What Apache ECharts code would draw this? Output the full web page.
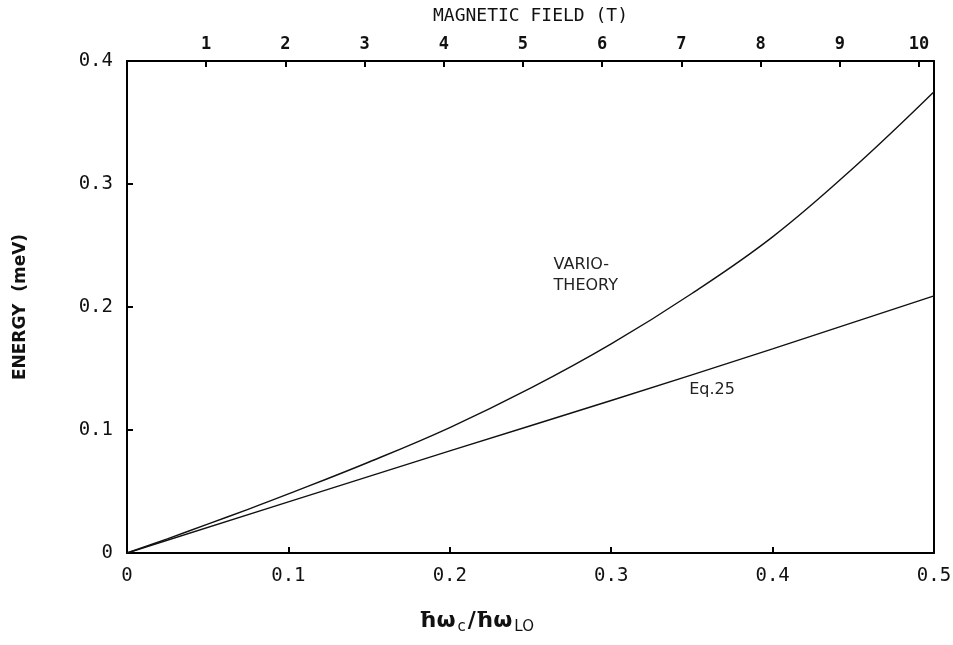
<!DOCTYPE html>
<html>
<head>
<meta charset="utf-8">
<script src="https://cdn.jsdelivr.net/npm/echarts@6/dist/echarts.min.js"></script>
<style>html,body{margin:0;padding:0;background:#fff;}#c{width:953px;height:645px;}</style>
</head>
<body>
<div id="c"></div>
<script>
// Data
var varioX = [0, 0.025, 0.05, 0.075, 0.1, 0.15, 0.2, 0.25, 0.3, 0.35, 0.4, 0.45, 0.5];
var varioY = [0, 0.0115, 0.0235, 0.0355, 0.048, 0.074, 0.102, 0.134, 0.170, 0.211, 0.257, 0.313, 0.375];
var eqX = [0, 0.1, 0.2, 0.3, 0.4, 0.5];
var eqY = [0, 0.0415, 0.083, 0.124, 0.166, 0.209];
var bottomTicks = [0, 0.1, 0.2, 0.3, 0.4, 0.5];
var leftTicks = [0, 0.1, 0.2, 0.3, 0.4];
var fieldTicks = [1, 2, 3, 4, 5, 6, 7, 8, 9, 10];
var fieldMax = 10.19; // tesla at ħω_c/ħω_LO = 0.5

function pairs(xs, ys) { return xs.map(function (x, i) { return [x, ys[i]]; }); }

var tickFont = 'DejaVu Sans Mono';
var noteLabel = { fontFamily: 'DejaVu Sans', fontSize: 16, color: '#222', lineHeight: 21 };
var chart = echarts.init(document.getElementById('c'));
chart.setOption({
  animation: false,
  backgroundColor: '#fff',
  grid: { left: 127, right: 19, top: 61, bottom: 92, show: false, containLabel: false, outerBoundsMode: 'none' },
  xAxis: [{
    type: 'value', min: 0, max: 0.5, interval: 0.1, position: 'bottom',
    axisLine: { show: true, onZero: false, lineStyle: { color: '#000', width: 2 } },
    axisTick: { show: true, inside: true, length: 6, lineStyle: { color: '#000', width: 2 } },
    axisLabel: { margin: 14, color: '#111', fontFamily: tickFont, fontSize: 19,
      formatter: function (v) { return v === 0 ? '0' : v.toFixed(1); } },
    splitLine: { show: false }
  }, {
    type: 'value', min: 0, max: fieldMax, interval: 1, position: 'top',
    name: 'MAGNETIC FIELD (T)', nameLocation: 'middle', nameGap: 36,
    nameTextStyle: { fontFamily: tickFont, fontSize: 18, color: '#111' },
    axisLine: { show: true, onZero: false, lineStyle: { color: '#000', width: 2 } },
    axisTick: { show: true, inside: true, length: 6, lineStyle: { color: '#000', width: 2 } },
    axisLabel: { margin: 8, color: '#111', fontFamily: tickFont, fontSize: 17, fontWeight: 'bold',
      showMaxLabel: false,
      formatter: function (v) { return fieldTicks.indexOf(v) >= 0 ? String(v) : ''; } },
    splitLine: { show: false }
  }],
  yAxis: [{
    type: 'value', min: 0, max: 0.4, interval: 0.1, position: 'left',
    name: 'ENERGY  (meV)', nameLocation: 'middle', nameGap: 98, nameRotate: 90,
    nameTextStyle: { fontFamily: 'DejaVu Sans', fontSize: 17, fontWeight: 'bold', color: '#111' },
    axisLine: { show: true, onZero: false, lineStyle: { color: '#000', width: 2 } },
    axisTick: { show: true, inside: true, length: 6, lineStyle: { color: '#000', width: 2 } },
    axisLabel: { margin: 14, color: '#111', fontFamily: tickFont, fontSize: 19,
      formatter: function (v) { return v === 0 ? '0' : v.toFixed(1); } },
    splitLine: { show: false }
  }, {
    type: 'value', min: 0, max: 0.4, interval: 0.1, position: 'right',
    axisLine: { show: true, onZero: false, lineStyle: { color: '#000', width: 2 } },
    axisTick: { show: false }, axisLabel: { show: false }, splitLine: { show: false }
  }],
  graphic: [{
    type: 'text', left: 'center', top: 610,
    style: {
      text: '{m|ħω}{s|c}{m|∕ħω}{s|LO}',
      rich: {
        m: { fontFamily: 'DejaVu Sans', fontSize: 22, fontWeight: 'bold', fill: '#111' },
        s: { fontFamily: 'DejaVu Sans', fontSize: 15, fill: '#111', padding: [12, 2, 0, 2] }
      }
    }
  }],
  series: [{
    type: 'line', name: 'VARIO-THEORY', data: pairs(varioX, varioY), smooth: 0.4,
    showSymbol: false, lineStyle: { color: '#111', width: 1.4 },
    markPoint: {
      symbol: 'circle', symbolSize: 1, itemStyle: { color: 'rgba(0,0,0,0)' },
      label: Object.assign({ show: true, position: 'right', distance: 0, formatter: 'VARIO-\nTHEORY' }, noteLabel),
      data: [{ coord: [0.264, 0.226] }]
    }
  }, {
    type: 'line', name: 'Eq.25', data: pairs(eqX, eqY), smooth: true,
    showSymbol: false, lineStyle: { color: '#111', width: 1.4 },
    markPoint: {
      symbol: 'circle', symbolSize: 1, itemStyle: { color: 'rgba(0,0,0,0)' },
      label: Object.assign({ show: true, position: 'right', distance: 0, formatter: 'Eq.25' }, noteLabel),
      data: [{ coord: [0.348, 0.1325] }]
    }
  }]
});
</script>
</body>
</html>
